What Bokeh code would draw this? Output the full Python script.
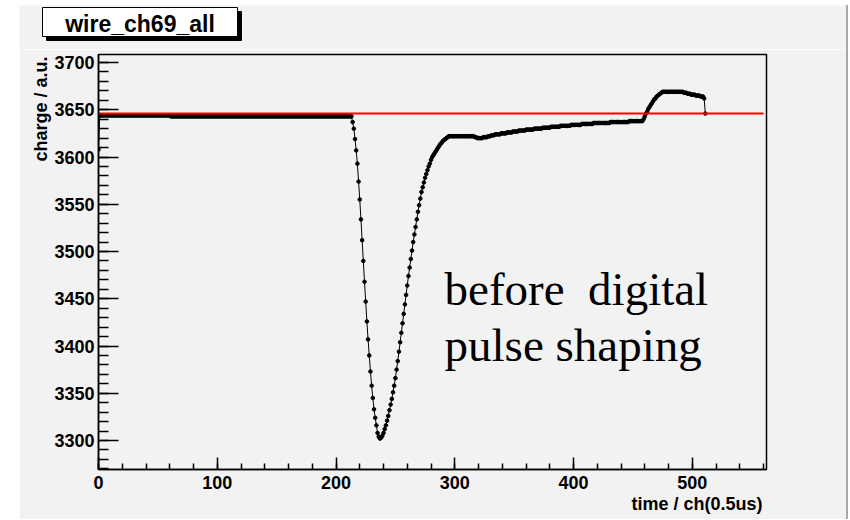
from bokeh.plotting import figure
from bokeh.models import Range1d, FixedTicker, Spacer, Title
from bokeh.layouts import row, column
from bokeh.core.properties import value
from bokeh.embed import file_html
from bokeh.resources import INLINE

# ---------------- data ----------------
title_text = "wire_ch69_all"
x_title = "time / ch(0.5us)"
y_title = "charge / a.u."
note_lines = ["before\u00a0 digital", "pulse shaping"]
note_x = [291.4, 291.4]
note_y = [3460.5, 3401.5]

first_value = [3608]                      # channel 0
flat_run_values = [3644, 3643]            # channels 1..213
flat_run_lengths = [60, 153]
pulse_values = [                          # channels 214..294
    3637, 3630, 3619, 3607, 3593, 3574, 3555, 3534, 3512, 3490,
    3468, 3447, 3426, 3407, 3390, 3373, 3358, 3345, 3333, 3324,
    3316, 3308, 3304, 3302, 3303,
    3305, 3308, 3312, 3316, 3321, 3326, 3332, 3338, 3344, 3351,
    3358, 3366, 3375, 3384, 3394, 3404, 3414, 3424, 3434, 3444,
    3454, 3464, 3474, 3483, 3492, 3501, 3510, 3518, 3526, 3534,
    3542, 3549, 3556, 3563, 3568, 3573, 3578, 3582, 3586, 3590,
    3593, 3597, 3600, 3602, 3604, 3606, 3608, 3610, 3612, 3614,
    3615, 3617, 3618, 3619, 3620, 3621,
]
tail_run_values = [3622, 3621, 3620, 3621, 3622, 3623, 3624, 3625, 3626, 3627,
                   3628, 3629, 3630, 3631, 3632, 3633, 3634, 3635, 3636, 3637, 3638]
tail_run_lengths = [22, 2, 5, 4, 3, 3, 5, 5, 5, 5,
                    6, 7, 7, 7, 8, 9, 9, 10, 14, 16, 12]
bump_values = [3640, 3643, 3646, 3648, 3651, 3653, 3655, 3657, 3659, 3661,
               3662, 3664, 3665, 3666, 3667, 3668]      # channels 459..474
bump_run_values = [3669, 3668, 3667, 3666, 3665, 3664]
bump_run_lengths = [18, 3, 3, 4, 4, 3]
end_values = [3662, 3646]                  # channels 510, 511

reference_level_x = [0, 560]
reference_level_y = [3646, 3646]

x_major_ticks = [0, 100, 200, 300, 400, 500]
y_major_ticks = [3300, 3350, 3400, 3450, 3500, 3550, 3600, 3650, 3700]

# ---------------- build series ----------------
charge = list(first_value)
for v, n in zip(flat_run_values, flat_run_lengths):
    charge += [v] * n
charge += pulse_values
for v, n in zip(tail_run_values, tail_run_lengths):
    charge += [v] * n
charge += bump_values
for v, n in zip(bump_run_values, bump_run_lengths):
    charge += [v] * n
charge += end_values
channel = list(range(len(charge)))

BG = "#f2f2f2"
FONT = "Liberation Sans"
FIG_W = 827

# ---------------- title strip (ROOT-style title box with shadow) ----------------
tf = figure(width=FIG_W, height=44, x_range=Range1d(0, FIG_W), y_range=Range1d(44, 0),
            output_backend="svg", toolbar_location=None, title=None,
            x_axis_location=None, y_axis_location=None, min_border=0,
            min_border_left=0, min_border_right=0, min_border_top=0, min_border_bottom=0)
tf.background_fill_color = BG
tf.border_fill_color = BG
tf.outline_line_color = None
tf.grid.visible = False
tf.quad(left=[27], right=[222], top=[6], bottom=[35], fill_color="black", line_color="black")
tf.quad(left=[23], right=[218], top=[2], bottom=[31], fill_color="white",
        line_color="black", line_width=1)
tf.text(x=[120.5], y=[18.5], text=[title_text], text_align="center",
        text_baseline="alphabetic", text_font=value(FONT), text_font_style="bold",
        text_font_size="23px", text_color="black")

# ---------------- main plot ----------------
p = figure(width=FIG_W, height=470, title=None,
           x_range=Range1d(0, 562.5), y_range=Range1d(3269.3, 3708.5),
           output_backend="svg", toolbar_location=None,
           min_border_left=79, min_border_right=80,
           min_border_top=5, min_border_bottom=50)
p.background_fill_color = BG
p.border_fill_color = BG
p.outline_line_color = "black"
p.outline_line_width = 1.5
p.grid.visible = False

for ax in (p.xaxis[0], p.yaxis[0]):
    ax.axis_line_color = "black"
    ax.axis_line_width = 1.5
    ax.major_tick_line_color = "black"
    ax.minor_tick_line_color = "black"
    ax.major_tick_line_width = 1.5
    ax.minor_tick_line_width = 1.5
    ax.major_tick_out = 0
    ax.minor_tick_out = 0
    ax.major_label_text_font = FONT
    ax.major_label_text_font_style = "bold"
    ax.major_label_text_font_size = "18px"
    ax.major_label_text_color = "black"

p.xaxis.ticker = FixedTicker(ticks=x_major_ticks,
                             minor_ticks=list(range(0, 561, 20)))
p.yaxis.ticker = FixedTicker(ticks=y_major_ticks,
                             minor_ticks=list(range(3270, 3710, 10)))
p.xaxis.major_tick_in = 12
p.xaxis.minor_tick_in = 6
p.yaxis.major_tick_in = 20
p.yaxis.minor_tick_in = 10
p.xaxis.major_label_standoff = 6
p.yaxis.major_label_standoff = 4

# ROOT places axis titles at the far end of each axis
p.add_layout(Title(text=x_title, align="right", offset=4, standoff=0,
                   text_font=FONT, text_font_style="bold",
                   text_font_size="18px", text_color="black"), "below")
p.add_layout(Title(text=y_title, align="right", offset=2, standoff=1,
                   text_font=FONT, text_font_style="bold",
                   text_font_size="18px", text_color="black"), "left")

p.line(channel, charge, line_color="black", line_width=1)
p.scatter(channel, charge, marker="circle", size=3.6,
          fill_color="black", line_color="black")
p.line(reference_level_x, reference_level_y, line_color="#ff0000", line_width=2)

p.text(x=note_x, y=note_y, text=note_lines, text_align="left",
       text_baseline="alphabetic", text_font=value("Liberation Serif"),
       text_font_size="47px", text_color="black")

EDGE = {"background-color": "#a9a9a9"}
layout = column(Spacer(height=5),
                row(Spacer(width=19), tf, Spacer(width=2, height=44, styles=EDGE)),
                row(Spacer(width=19), p, Spacer(width=2, height=470, styles=EDGE)))
open("out.html", "w").write(file_html(layout, INLINE))
